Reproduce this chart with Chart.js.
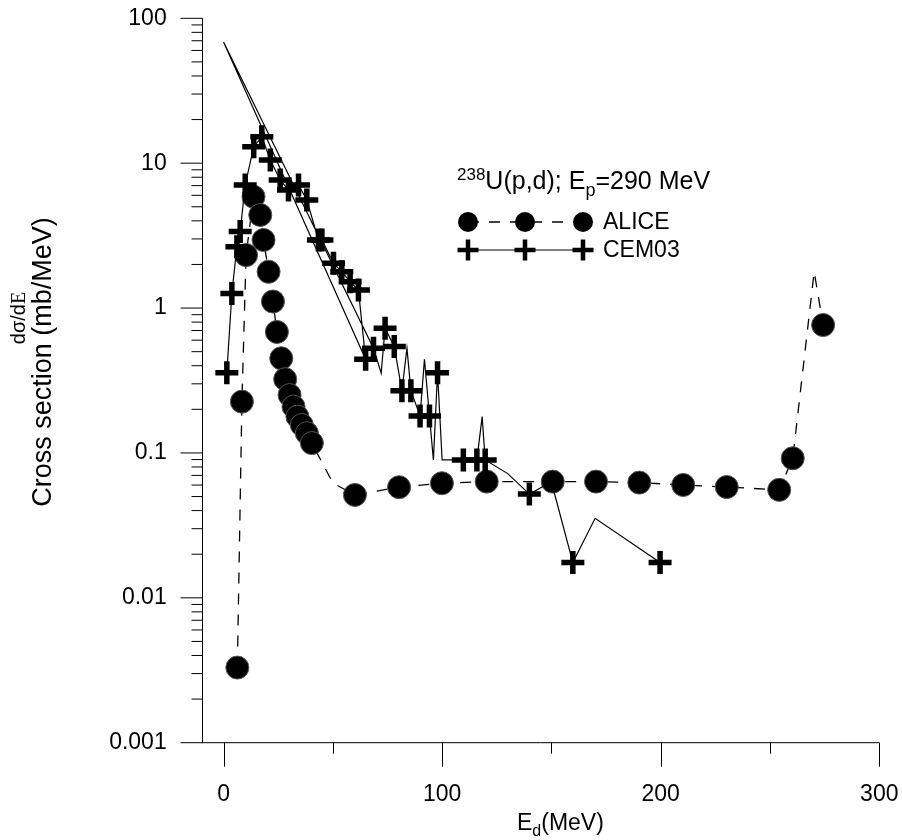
<!DOCTYPE html>
<html>
<head>
<meta charset="utf-8">
<script src="https://cdn.jsdelivr.net/npm/chart.js@4.4.1/dist/chart.umd.min.js"></script>
<style>
  html, body { margin: 0; padding: 0; background: #fff; }
</style>
</head>
<body>
<canvas id="myChart" width="902" height="840"></canvas>
<script>
// ALICE: dashed line with filled circles (indices in aliceNoMarker are line vertices only)
const aliceE = [6.3, 8.4, 10.3, 13.7, 16.8, 18.3, 20.6, 22.6, 24.4, 26.4, 28.2, 30.2, 32.0, 33.8, 35.8, 38.1, 40.4,
  50, 60.1, 80.3, 99.9, 120.4, 150.6, 170.4, 190.2, 210.3, 230.2, 254.2, 260.4, 270.2, 274.3];
const aliceXs = [0.0033, 0.226, 2.32, 5.87, 4.39, 2.95, 1.78, 1.11, 0.684, 0.45, 0.323, 0.251, 0.209, 0.178, 0.156, 0.137, 0.117,
  0.062, 0.0513, 0.058, 0.0618, 0.0634, 0.0634, 0.0634, 0.0624, 0.0601, 0.0582, 0.0556, 0.0919, 1.78, 0.764];
const aliceNoMarker = [17, 29];

// CEM03: solid line with crosses (points kept in the order the line is drawn)
const cemE = [1.5, 3.8, 6.1, 7.6, 9.9, 13.8, 17.5, 21.4, 25.9, 29.7, 34.3, 38.1, 43.4, 45.0, 50.3, 54.1, 57.9, 61.7, 65.0,
  0, 68.6, 72.1, 73.9, 78.1, 81.6, 83.9, 85.7, 89.9, 91.9, 94.2, 96.0, 97.9, 100.0, 109.7, 115.9, 118.3, 119.7,
  130, 139.9, 150, 159.8, 170, 199.7];
const cemXs = [0.358, 1.26, 2.65, 3.37, 7.07, 13.0, 15.2, 10.5, 7.66, 6.53, 7.07, 5.57, 2.95, 2.95, 2.04, 1.78, 1.52, 1.33, 0.443,
  68.6, 0.528, 0.355, 0.726, 0.542, 0.269, 0.528, 0.269, 0.18, 0.443, 0.18, 0.0895, 0.358, 0.0895, 0.0895, 0.0895, 0.178, 0.0895,
  0.072, 0.052, 0.063, 0.0175, 0.0354, 0.0175];
const cemNoMarker = [19, 21, 25, 28, 30, 32, 35, 37, 39, 41];

const xTickLabels = [0, 100, 200, 300];
const xMinorTicks = [50, 150, 250];
const yTickLabels = [0.001, 0.01, 0.1, 1, 10, 100];

const FONT = '"Liberation Sans", Arial, sans-serif';

const toPoints = (xs, ys) => xs.map((x, i) => ({ x: x, y: ys[i] }));

// draws a run of text pieces with their own size / vertical shift
function richText(ctx, x, y, parts) {
  let cx = x;
  parts.forEach(p => {
    ctx.font = (p.size) + 'px ' + (p.family || FONT);
    ctx.fillText(p.t, cx, y + (p.dy || 0));
    cx += ctx.measureText(p.t).width;
  });
}

function textWidth(ctx, parts) {
  let w = 0;
  parts.forEach(p => {
    ctx.font = (p.size) + 'px ' + (p.family || FONT);
    w += ctx.measureText(p.t).width;
  });
  return w;
}

function drawCross(ctx, x, y, r, w) {
  ctx.beginPath();
  ctx.moveTo(x - r, y); ctx.lineTo(x + r, y);
  ctx.moveTo(x, y - r); ctx.lineTo(x, y + r);
  ctx.lineWidth = w;
  ctx.strokeStyle = '#000';
  ctx.stroke();
}

const framePlugin = {
  id: 'frame',
  afterDraw(chart) {
    const ctx = chart.ctx;
    const xs = chart.scales.x, ys = chart.scales.y;
    const area = chart.chartArea;
    const ax = Math.round(area.left) + 0.5;
    const ay = area.bottom;
    ctx.save();
    ctx.strokeStyle = '#000';
    ctx.lineWidth = 1;
    ctx.beginPath();
    // axis lines
    ctx.moveTo(ax, area.top); ctx.lineTo(ax, ay);
    ctx.moveTo(area.left, ay); ctx.lineTo(area.right, ay);
    // y ticks (log)
    for (let e = -3; e <= 2; e++) {
      for (let m = 1; m <= 9; m++) {
        const v = m * Math.pow(10, e);
        if (v > 100.0001) break;
        const py = ys.getPixelForValue(v);
        const len = m === 1 ? 22 : 11;
        ctx.moveTo(ax - len, py); ctx.lineTo(ax, py);
      }
    }
    // x ticks
    xTickLabels.forEach(v => {
      const px = Math.round(xs.getPixelForValue(v)) + 0.5;
      ctx.moveTo(px, ay); ctx.lineTo(px, ay + 24);
    });
    xMinorTicks.forEach(v => {
      const px = Math.round(xs.getPixelForValue(v)) + 0.5;
      ctx.moveTo(px, ay); ctx.lineTo(px, ay + 11);
    });
    ctx.stroke();

    ctx.fillStyle = '#000';
    ctx.textBaseline = 'alphabetic';
    ctx.textAlign = 'left';

    // x axis title
    richText(ctx, 517, 830, [
      { t: 'E', size: 23 },
      { t: 'd', size: 16, dy: 6 },
      { t: '(MeV)', size: 23 }
    ]);

    // y axis title (rotated)
    ctx.save();
    ctx.translate(51, 362);
    ctx.rotate(-Math.PI / 2);
    ctx.textAlign = 'center';
    ctx.font = '27px ' + FONT;
    ctx.fillText('Cross section (mb/MeV)', 0, 0);
    ctx.restore();

    ctx.save();
    ctx.translate(25, 318);
    ctx.rotate(-Math.PI / 2);
    ctx.textAlign = 'left';
    const yParts = [
      { t: 'd\u03c3/d', size: 20 },
      { t: 'E', size: 20, family: '"Liberation Serif", serif' }
    ];
    richText(ctx, -textWidth(ctx, yParts) / 2, 0, yParts);
    ctx.restore();

    // legend block
    richText(ctx, 457, 189, [
      { t: '238', size: 17, dy: -9 },
      { t: 'U(p,d); E', size: 25 },
      { t: 'p', size: 18, dy: 7 },
      { t: '=290 MeV', size: 25 }
    ]);
    const lx = [468, 525, 583];
    // ALICE row
    ctx.beginPath();
    ctx.setLineDash([11, 10]);
    ctx.lineWidth = 1.3;
    ctx.moveTo(lx[0], 222); ctx.lineTo(lx[2], 222);
    ctx.stroke();
    ctx.setLineDash([]);
    lx.forEach(x => {
      ctx.beginPath();
      ctx.arc(x, 222, 10, 0, Math.PI * 2);
      ctx.fillStyle = '#000';
      ctx.fill();
    });
    // CEM03 row
    ctx.beginPath();
    ctx.lineWidth = 1.2;
    ctx.moveTo(lx[0], 250); ctx.lineTo(lx[2], 250);
    ctx.stroke();
    lx.forEach(x => drawCross(ctx, x, 250, 10.5, 4.5));
    ctx.fillStyle = '#000';
    ctx.font = '23px ' + FONT;
    ctx.textBaseline = 'middle';
    ctx.fillText('ALICE', 603, 223);
    ctx.fillText('CEM03', 603, 251);
    ctx.restore();
  }
};

const ctx = document.getElementById('myChart').getContext('2d');
new Chart(ctx, {
  type: 'line',
  data: {
    datasets: [
      {
        label: 'CEM03',
        data: toPoints(cemE, cemXs),
        order: 0,
        borderColor: '#000',
        borderWidth: 1.2,
        fill: false,
        pointStyle: 'cross',
        pointRadius: c => cemNoMarker.includes(c.dataIndex) ? 0 : 11.5,
        pointBorderWidth: 5.5,
        pointBorderColor: '#000',
        pointBackgroundColor: '#000'
      },
      {
        label: 'ALICE',
        data: toPoints(aliceE, aliceXs),
        order: 1,
        borderColor: '#000',
        borderWidth: 1.3,
        borderDash: [11, 10],
        fill: false,
        pointStyle: 'circle',
        pointRadius: c => aliceNoMarker.includes(c.dataIndex) ? 0 : 11.5,
        pointBorderWidth: 1,
        pointBorderColor: '#555',
        pointBackgroundColor: '#000'
      }
    ]
  },
  options: {
    responsive: false,
    animation: false,
    layout: { padding: { left: 0, right: 22.7, top: 18.3, bottom: 0 } },
    plugins: { legend: { display: false }, tooltip: { enabled: false } },
    scales: {
      x: {
        type: 'linear',
        min: -10,
        max: 300,
        grid: { display: false, drawTicks: false },
        border: { display: false },
        afterBuildTicks: s => { s.ticks = xTickLabels.map(v => ({ value: v })); },
        afterFit: s => { s.height = 97.3; s.paddingLeft = 0; s.paddingRight = 0; },
        ticks: {
          padding: 38,
          color: '#000',
          autoSkip: false,
          maxRotation: 0,
          font: { family: FONT, size: 23 },
          callback: v => String(v)
        }
      },
      y: {
        type: 'logarithmic',
        min: 0.001,
        max: 100,
        grid: { display: false, drawTicks: false },
        border: { display: false },
        afterBuildTicks: s => { s.ticks = yTickLabels.map(v => ({ value: v })); },
        afterFit: s => { s.width = 201.7; s.paddingTop = 0; s.paddingBottom = 0; },
        ticks: {
          padding: 35,
          color: '#000',
          autoSkip: false,
          font: { family: FONT, size: 23 },
          callback: v => String(v)
        }
      }
    }
  },
  plugins: [framePlugin]
});
</script>
</body>
</html>
